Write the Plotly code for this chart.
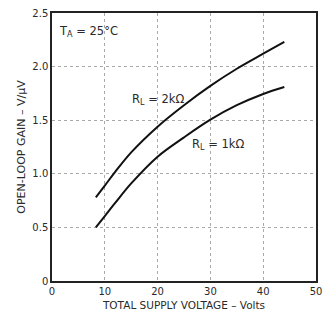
import plotly.graph_objects as go

volts_2k = [8.3, 10, 12, 15, 20, 25, 30, 35, 40, 44]
gain_2k = [0.78, 0.89, 1.02, 1.20, 1.44, 1.64, 1.82, 1.98, 2.12, 2.23]
volts_1k = [8.3, 10, 12, 15, 20, 25, 30, 35, 40, 44]
gain_1k = [0.50, 0.605, 0.73, 0.91, 1.16, 1.34, 1.505, 1.64, 1.745, 1.81]

x_ticks = [0, 10, 20, 30, 40, 50]
x_labels = ["0", "10", "20", "30", "40", "50"]
y_ticks = [0, 0.5, 1.0, 1.5, 2.0, 2.5]
y_labels = ["0", "0.5", "1.0", "1.5", "2.0", "2.5"]

FONT = "DejaVu Sans, Arial, sans-serif"
TXT = "#2a2a2a"

fig = go.Figure()
for xs, ys in [(volts_2k, gain_2k), (volts_1k, gain_1k)]:
    fig.add_trace(go.Scatter(x=xs, y=ys, mode="lines",
                             line=dict(color="#111111", width=2, shape="spline", smoothing=1.0),
                             showlegend=False, hoverinfo="skip"))

annos = [
    dict(x=6.9, y=2.33, text="T<sub>A</sub> = 25°C", size=11.5),
    dict(x=20, y=1.69, text="R<sub>L</sub> = 2kΩ", size=11.5),
    dict(x=31.4, y=1.27, text="R<sub>L</sub> = 1kΩ", size=11.5),
]
for a in annos:
    fig.add_annotation(x=a["x"], y=a["y"], text=a["text"], showarrow=False,
                       font=dict(family=FONT, size=a["size"], color=TXT))

axis_common = dict(showline=True, linecolor="#222222", linewidth=1.5, mirror=True,
                   showgrid=True, gridcolor="#aaaaaa", griddash="dot", gridwidth=1,
                   zeroline=False, ticks="", tickfont=dict(family=FONT, size=10, color=TXT))

fig.update_xaxes(range=[0, 50], tickvals=x_ticks, ticktext=x_labels,
                 title=dict(text="TOTAL SUPPLY VOLTAGE – Volts", standoff=6,
                            font=dict(family=FONT, size=10.5, color=TXT)),
                 **axis_common)
fig.update_yaxes(range=[0, 2.5], tickvals=y_ticks, ticktext=y_labels,
                 title=dict(text="OPEN-LOOP GAIN – V/μV", standoff=4,
                            font=dict(family=FONT, size=11, color=TXT)),
                 **axis_common)

fig.update_layout(width=329, height=320, margin=dict(l=52, r=7, t=13, b=39),
                  paper_bgcolor="white", plot_bgcolor="white")

fig.write_html("out.html")
